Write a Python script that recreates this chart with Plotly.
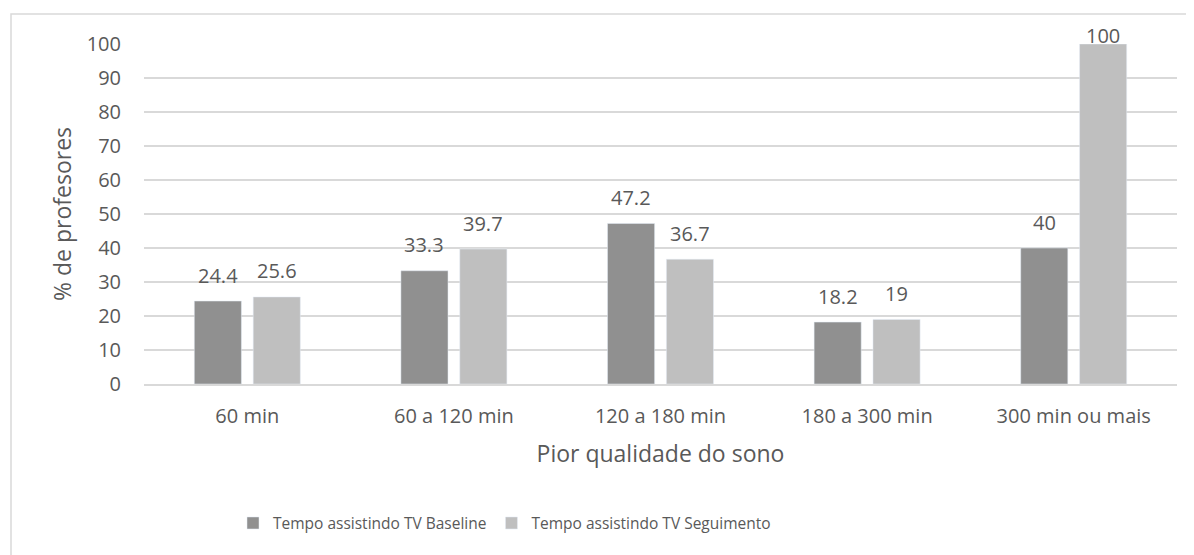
import plotly.graph_objects as go

categories = ["60 min", "60 a 120 min", "120 a 180 min", "180 a 300 min", "300 min ou mais"]
baseline = [24.4, 33.3, 47.2, 18.2, 40]
seguimento = [25.6, 39.7, 36.7, 19, 100]
series_names = ["Tempo assistindo TV Baseline", "Tempo assistindo TV Seguimento"]
y_ticks = list(range(0, 101, 10))

FONT = "Open Sans"
TXT = "#595959"

# page body has an 8px margin; shift the figure so the plot lands where the reference has it
OFF = 8
L, T = 144 - OFF, 44 - OFF
PW, PH = 1033, 340
W, H = 1194, 555
R = W - L - PW
B = H - T - PH
PX_PER_UNIT = PH / 100

fig = go.Figure()
fig.add_bar(x=categories, y=baseline, name=series_names[0], marker_color="#909090")
fig.add_bar(x=categories, y=seguimento, name=series_names[1], marker_color="#bfbfbf")

annotations = []
for vals, xs in ((baseline, -29.5), (seguimento, 29.5)):
    for c, v in zip(categories, vals):
        annotations.append(dict(
            x=c, y=v, xref="x", yref="y", text=f"{v:g}", showarrow=False,
            xshift=xs, yanchor="middle", yshift=min(26, (100 - v) * PX_PER_UNIT + 9),
            font=dict(size=20, color=TXT, family=FONT)))

fig.update_layout(
    width=W, height=H,
    margin=dict(l=L, r=R, t=T, b=B, autoexpand=False),
    paper_bgcolor="white", plot_bgcolor="white",
    font=dict(family=FONT, size=20, color=TXT),
    barmode="group", bargap=0.43, bargroupgap=0.2,
    showlegend=True,
    legend=dict(orientation="h", x=(225 - L) / PW, xanchor="left", y=-0.41, yanchor="middle",
                font=dict(size=15.5, color=TXT), itemwidth=30,
                traceorder="normal"),
    xaxis=dict(showgrid=False, showline=True, linecolor="#d9d9d9", linewidth=1.5,
               ticks="", tickfont=dict(size=20, color=TXT), ticklabelstandoff=13,
               automargin=False,
               title=dict(text="Pior qualidade do sono", font=dict(size=23, color=TXT), standoff=18)),
    yaxis=dict(range=[0, 100], tickvals=y_ticks, showgrid=True, gridcolor="#d9d9d9", gridwidth=1.5,
               zeroline=False, showline=False, ticks="", ticklabelstandoff=22,
               tickfont=dict(size=20, color=TXT), automargin=False,
               title=dict(text="% de profesores", font=dict(size=23, color=TXT), standoff=8)),
    annotations=annotations,
    shapes=[dict(type="rect", xref="paper", yref="paper",
                 x0=(11 - OFF - L) / PW, x1=(1210 - L) / PW,
                 y0=(T + PH - 570) / PH, y1=(T + PH - (14 - OFF)) / PH,
                 line=dict(color="#d9d9d9", width=1.5), fillcolor="rgba(0,0,0,0)", layer="below")],
)

fig.write_html("out.html")
